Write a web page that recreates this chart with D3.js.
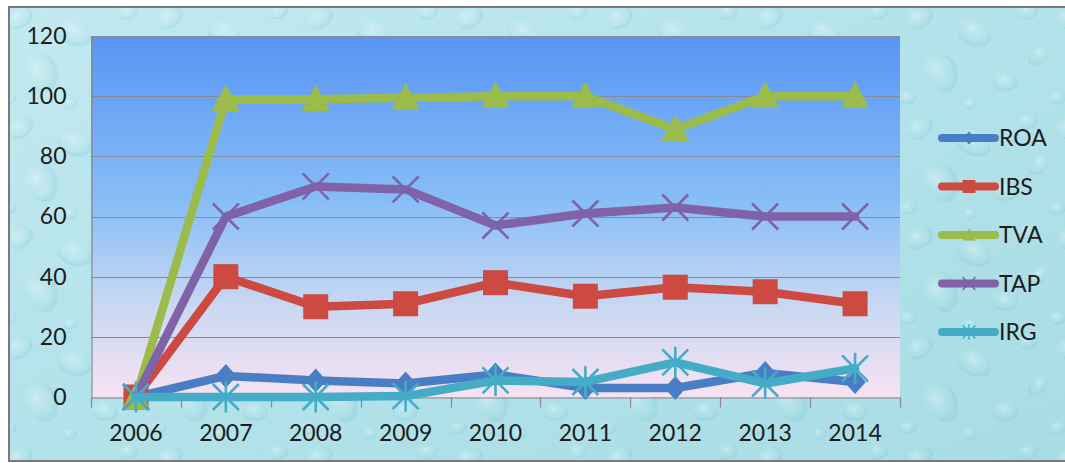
<!DOCTYPE html>
<html>
<head>
<meta charset="utf-8">
<script src="https://cdn.jsdelivr.net/npm/d3@7"></script>
<style>
  html, body { margin: 0; padding: 0; background: #ffffff; }
  svg { display: block; }
  text { font-family: Lato, "Open Sans", sans-serif; }
</style>
</head>
<body>
<svg id="chart" width="1065" height="463"></svg>
<script>
// Years on the category axis
const years = ["2006", "2007", "2008", "2009", "2010", "2011", "2012", "2013", "2014"];

// Indicator values per year
const roa = [0, 7, 5.5, 4.5, 7.5, 3, 3, 8, 5];
const ibs = [0, 40, 30, 31, 38, 33.5, 36.5, 35, 31];
const tva = [0, 99, 99, 99.5, 100, 100, 89, 100, 100];
const tap = [0, 60, 70, 69, 57, 61, 63, 60, 60];
const irg = [0, 0, 0, 0.3, 5.5, 5, 11.5, 4.5, 9.5];

// Value axis ticks
const yTicks = [0, 20, 40, 60, 80, 100, 120];

const seriesNames = ["ROA", "IBS", "TVA", "TAP", "IRG"];
const seriesValues = [roa, ibs, tva, tap, irg];

const colors = {
  ROA: "#4a7ec4",
  IBS: "#cc4a41",
  TVA: "#9bbb4a",
  TAP: "#7f62a8",
  IRG: "#45acc8"
};
const markerType = { ROA: "diamond", IBS: "square", TVA: "triangle", TAP: "cross", IRG: "star" };

const series = seriesNames.map((name, i) => ({
  name,
  values: years.map((yr, j) => ({ year: yr, value: seriesValues[i][j] }))
}));

const svg = d3.select("#chart");
const W = 1065, H = 463;
const plot = { left: 91, right: 900, top: 36, bottom: 397 };

const defs = svg.append("defs");

// Pale aqua backdrop with a soft droplet texture
const bg = defs.append("linearGradient").attr("id", "bgGrad")
  .attr("x1", 0).attr("y1", 0).attr("x2", 1).attr("y2", 1);
bg.append("stop").attr("offset", "0%").attr("stop-color", "#c2e9ef");
bg.append("stop").attr("offset", "50%").attr("stop-color", "#b3e2ea");
bg.append("stop").attr("offset", "100%").attr("stop-color", "#a8dce5");

const drop = defs.append("radialGradient").attr("id", "drop")
  .attr("cx", "40%").attr("cy", "35%").attr("r", "65%");
drop.append("stop").attr("offset", "0%").attr("stop-color", "#ffffff").attr("stop-opacity", 0.35);
drop.append("stop").attr("offset", "55%").attr("stop-color", "#c8eef3").attr("stop-opacity", 0.08);
drop.append("stop").attr("offset", "85%").attr("stop-color", "#6fbccb").attr("stop-opacity", 0.22);
drop.append("stop").attr("offset", "100%").attr("stop-color", "#5aaebe").attr("stop-opacity", 0.0);

const pat = defs.append("pattern").attr("id", "drops")
  .attr("patternUnits", "userSpaceOnUse").attr("width", 150).attr("height", 110);
const dropShapes = [
  [20, 18, 14, 11, -20], [74, 34, 18, 13, 30], [128, 12, 10, 8, 0],
  [42, 72, 16, 22, -35], [105, 82, 13, 10, 15], [8, 98, 9, 7, 0],
  [70, 104, 7, 6, 0], [138, 56, 8, 12, 40]
];
pat.selectAll("ellipse").data(dropShapes).join("ellipse")
  .attr("cx", d => d[0]).attr("cy", d => d[1])
  .attr("rx", d => d[2]).attr("ry", d => d[3])
  .attr("transform", d => `rotate(${d[4]},${d[0]},${d[1]})`)
  .attr("fill", "url(#drop)");

// Plot area: deep blue fading to a soft pink
const pg = defs.append("linearGradient").attr("id", "plotGrad")
  .attr("x1", 0).attr("y1", 0).attr("x2", 0).attr("y2", 1);
pg.append("stop").attr("offset", "0%").attr("stop-color", "#5895f4");
pg.append("stop").attr("offset", "45%").attr("stop-color", "#86bdf7");
pg.append("stop").attr("offset", "75%").attr("stop-color", "#c9d8f1");
pg.append("stop").attr("offset", "100%").attr("stop-color", "#f8e2f3");

svg.append("rect").attr("x", 0).attr("y", 0).attr("width", W).attr("height", H).attr("fill", "#ffffff");
svg.append("rect").attr("x", 8).attr("y", 6).attr("width", W).attr("height", 456).attr("fill", "url(#bgGrad)");
svg.append("rect").attr("x", 8).attr("y", 6).attr("width", W).attr("height", 456).attr("fill", "url(#drops)");
// chart frame (left, top, bottom edges)
svg.append("path")
  .attr("d", `M${W},7 H9 V461 H${W}`)
  .attr("fill", "none").attr("stroke", "#7a7a7a").attr("stroke-width", 2);

svg.append("rect")
  .attr("x", plot.left).attr("y", plot.top)
  .attr("width", plot.right - plot.left).attr("height", plot.bottom - plot.top)
  .attr("fill", "url(#plotGrad)");

const x = d3.scaleBand().domain(years).range([plot.left, plot.right]);
const cx = d => x(d) + x.bandwidth() / 2;
const y = d3.scaleLinear().domain([0, 120]).range([plot.bottom, plot.top]);

// Horizontal gridlines
svg.append("g").selectAll("line").data(yTicks.filter(t => t > 0)).join("line")
  .attr("x1", plot.left).attr("x2", plot.right)
  .attr("y1", d => Math.round(y(d)) + 0.5).attr("y2", d => Math.round(y(d)) + 0.5)
  .attr("stroke", "#878a90").attr("stroke-width", 1.2);

// Value axis
const yAxis = svg.append("g")
  .attr("transform", `translate(${plot.left + 0.5},0)`)
  .call(d3.axisLeft(y).tickValues(yTicks).tickSize(0).tickPadding(25));
yAxis.select(".domain").attr("stroke", "#888888").attr("stroke-width", 1.2);
yAxis.selectAll("text").attr("font-size", 23).attr("fill", "#1c1c1c")
  .attr("font-family", "Lato, sans-serif");

// Category axis with ticks between categories
const xAxis = svg.append("g")
  .attr("transform", `translate(0,${plot.bottom + 0.5})`)
  .call(d3.axisBottom(x).tickSize(0).tickPadding(27));
xAxis.select(".domain").attr("stroke", "#888888").attr("stroke-width", 1.2);
xAxis.selectAll("text").attr("font-size", 23).attr("fill", "#1c1c1c")
  .attr("font-family", "Lato, sans-serif");
const bounds = years.map(d => x(d)).concat([x(years[years.length - 1]) + x.bandwidth()]);
xAxis.append("g").selectAll("line").data(bounds).join("line")
  .attr("x1", d => Math.round(d) + 0.5).attr("x2", d => Math.round(d) + 0.5)
  .attr("y1", 0).attr("y2", 10)
  .attr("stroke", "#888888").attr("stroke-width", 1.2);

// Marker shapes, r = half size
function drawMarker(g, type, color, r) {
  if (type === "diamond") {
    g.append("path").attr("d", `M0,${-r} L${r * 0.9},0 L0,${r} L${-r * 0.9},0 Z`).attr("fill", color);
  } else if (type === "square") {
    g.append("rect").attr("x", -r).attr("y", -r).attr("width", 2 * r).attr("height", 2 * r).attr("fill", color);
  } else if (type === "triangle") {
    g.append("path").attr("d", `M0,${-r * 1.05} L${r},${r * 0.85} L${-r},${r * 0.85} Z`).attr("fill", color);
  } else if (type === "cross") {
    g.append("path").attr("d", `M${-r},${-r} L${r},${r} M${r},${-r} L${-r},${r}`)
      .attr("stroke", color).attr("stroke-width", Math.max(1.5, r / 5)).attr("fill", "none");
  } else if (type === "star") {
    g.append("path").attr("d", `M${-r},${-r} L${r},${r} M${r},${-r} L${-r},${r} M0,${-r * 1.2} L0,${r * 1.2}`)
      .attr("stroke", color).attr("stroke-width", Math.max(1.5, r / 5)).attr("fill", "none");
  }
}

const line = d3.line().x(d => cx(d.year)).y(d => y(d.value));
const markerSize = { diamond: 12, square: 12.5, triangle: 14, cross: 13, star: 13 };

series.forEach(s => {
  const g = svg.append("g").attr("class", "series-" + s.name);
  g.append("path").datum(s.values)
    .attr("d", line)
    .attr("fill", "none")
    .attr("stroke", colors[s.name])
    .attr("stroke-width", 8.5)
    .attr("stroke-linejoin", "round")
    .attr("stroke-linecap", "round");
  s.values.forEach(v => {
    const m = g.append("g").attr("transform", `translate(${cx(v.year)},${y(v.value)})`);
    drawMarker(m, markerType[s.name], colors[s.name], markerSize[markerType[s.name]]);
  });
});

// Legend
const legend = svg.append("g").attr("transform", "translate(942,138)");
seriesNames.forEach((name, i) => {
  const item = legend.append("g").attr("transform", `translate(0,${i * 48.5})`);
  item.append("line").attr("x1", 0).attr("x2", 53).attr("y1", 0).attr("y2", 0)
    .attr("stroke", colors[name]).attr("stroke-width", 8).attr("stroke-linecap", "round");
  const m = item.append("g").attr("transform", "translate(27,0)");
  drawMarker(m, markerType[name], colors[name], 6.5);
  item.append("text").attr("x", 57).attr("y", 0).attr("dy", "0.36em")
    .attr("font-size", 23).attr("fill", "#1c1c1c").text(name);
});
</script>
</body>
</html>
